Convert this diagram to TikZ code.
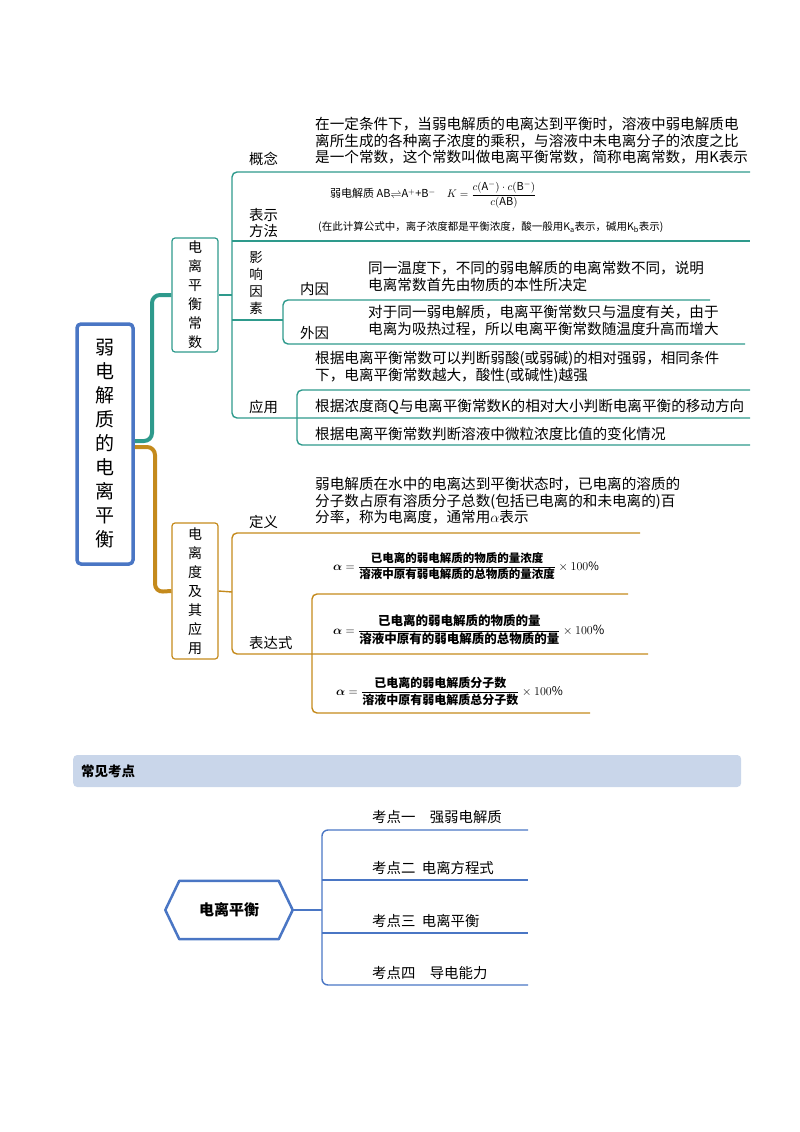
\documentclass[tikz,border=0pt]{standalone}
\usepackage{fontspec}
\usepackage{amsmath}
\setmainfont{Noto Sans CJK SC}
\newfontfamily\cjk{Noto Sans CJK SC}
\definecolor{teal1}{HTML}{2E9A8C}
\definecolor{gold1}{HTML}{C48A1C}
\definecolor{blue1}{HTML}{4A76C4}
\definecolor{bar1}{HTML}{C9D6EA}
\tikzset{
 txt/.style={inner sep=0pt,anchor=north west,align=left,font=\fontsize{14.6}{16.6}\selectfont},
 lab/.style={inner sep=0pt,font=\fontsize{14.4}{16.5}\selectfont},
 tl/.style={teal1,line width=1.4pt,rounded corners=5pt},
 gl/.style={gold1,line width=1.4pt,rounded corners=5pt},
 vbox/.style={draw,rounded corners=3pt,line width=1.2pt,inner sep=0pt,align=center,font=\fontsize{14}{19}\selectfont},
 frm/.style={inner sep=0pt,font=\fontsize{10}{12}\selectfont},
}
\begin{document}
\begin{tikzpicture}[x=1pt,y=-1pt]
\useasboundingbox (0,0) rectangle (800,1132);
% root
\node[draw=blue1,line width=3.5pt,rounded corners=4pt,minimum width=56pt,minimum height=240pt,align=center,font=\fontsize{19}{24}\selectfont] (root) at (105,444) {弱\\电\\解\\质\\的\\电\\离\\平\\衡};
\node[vbox,draw=teal1,minimum width=46pt,minimum height=114pt] (b1) at (195,295) {电\\离\\平\\衡\\常\\数};
\node[vbox,draw=gold1,minimum width=46pt,minimum height=136pt] (b2) at (195,591) {电\\离\\度\\及\\其\\应\\用};
\draw[teal1,line width=4pt,rounded corners=8pt] (root.east|-0,441) -- (152,441) -- (152,295) -- (b1.west);
\draw[gold1,line width=4pt,rounded corners=8pt] (root.east|-0,447) -- (155,447) -- (155,592) -- (b2.west);
% teal branch
\draw[tl] (750,172) -- (232,172) -- (232,418) -- (297,418) -- (750,418);
\draw[tl] (b1.east) -- (232,295);
\draw[tl] (232,241) -- (750,241);
\draw[tl] (232,320) -- (283,320);
\draw[tl] (710,300) -- (283,300) -- (283,344) -- (745,344);
\draw[tl] (750,390) -- (297,390) -- (297,445) -- (750,445);
\node[lab,anchor=south west] (l1) at (249,166) {概念};
\node[txt] (t1) at (315,117) {在一定条件下，当弱电解质的电离达到平衡时，溶液中弱电解质电\\离所生成的各种离子浓度的乘积，与溶液中未电离分子的浓度之比\\是一个常数，这个常数叫做电离平衡常数，简称电离常数，用K表示};
\node[lab,anchor=south west,align=left] (l2) at (249,238) {表示\\方法};
\node[frm,anchor=west,font=\fontsize{11}{13}\selectfont] (f1) at (330,195) {弱电解质 AB$\rightleftharpoons$A$^+$+B$^-$\quad $K=\dfrac{c(\mathrm{A}^-)\cdot c(\mathrm{B}^-)}{c(\mathrm{AB})}$};
\node[frm,anchor=west,font=\fontsize{10.5}{12}\selectfont] (f2) at (318,227) {(在此计算公式中，离子浓度都是平衡浓度，酸一般用K$_\mathrm{a}$表示，碱用K$_\mathrm{b}$表示)};
\node[lab,anchor=north,align=center,font=\fontsize{13.5}{17}\selectfont] (l3) at (256,251) {影\\响\\因\\素};
\node[lab,anchor=south west] (l4) at (300,296) {内因};
\node[txt] (t4) at (368,261) {同一温度下，不同的弱电解质的电离常数不同，说明\\电离常数首先由物质的本性所决定};
\node[lab,anchor=south west] (l5) at (300,340) {外因};
\node[txt] (t5) at (368,305) {对于同一弱电解质，电离平衡常数只与温度有关，由于\\电离为吸热过程，所以电离平衡常数随温度升高而增大};
\node[lab,anchor=south west] (l6) at (249,414) {应用};
\node[txt] (t6) at (315,351) {根据电离平衡常数可以判断弱酸(或弱碱)的相对强弱，相同条件\\下，电离平衡常数越大，酸性(或碱性)越强};
\node[txt,anchor=south west] (t7) at (315,414) {根据浓度商Q与电离平衡常数K的相对大小判断电离平衡的移动方向};
\node[txt,anchor=south west] (t8) at (315,441) {根据电离平衡常数判断溶液中微粒浓度比值的变化情况};
% gold branch
\draw[gl] (640,533) -- (232,533) -- (232,654) -- (312,654) -- (648,654);
\draw[gl] (b2.east) -- (232,592);
\draw[gl] (628,594) -- (312,594) -- (312,713) -- (590,713);
\node[lab,anchor=south west] (l7) at (249,529) {定义};
\node[txt] (t9) at (315,477) {弱电解质在水中的电离达到平衡状态时，已电离的溶质的\\分子数占原有溶质分子总数(包括已电离的和未电离的)百\\分率，称为电离度，通常用$\alpha$表示};
\node[lab,anchor=south west] (l8) at (249,650) {表达式};
\node[frm,anchor=west,font=\bfseries\fontsize{11.5}{13}\selectfont] (f3) at (333,566) {$\boldsymbol\alpha=\dfrac{\text{已电离的弱电解质的物质的量浓度}}{\text{溶液中原有弱电解质的总物质的量浓度}}\times100\%$};
\node[frm,anchor=west,font=\bfseries\fontsize{12.5}{14}\selectfont] (f4) at (333,630) {$\boldsymbol\alpha=\dfrac{\text{已电离的弱电解质的物质的量}}{\text{溶液中原有的弱电解质的总物质的量}}\times100\%$};
\node[frm,anchor=west,font=\bfseries\fontsize{12}{14}\selectfont] (f5) at (336,691) {$\boldsymbol\alpha=\dfrac{\text{已电离的弱电解质分子数}}{\text{溶液中原有弱电解质总分子数}}\times100\%$};
% bottom
\node[fill=bar1,rounded corners=4pt,minimum width=668pt,minimum height=32pt,anchor=west] (bar) at (73,771) {};
\node[lab,anchor=west,font=\bfseries\fontsize{13.5}{16}\selectfont] (bt) at (81,771) {常见考点};
\node[minimum width=127pt,minimum height=58pt,font=\bfseries\fontsize{15}{18}\selectfont] (hx) at (229,910) {电离平衡};
\draw[blue1,line width=2.5pt,line join=round] (hx.west) -- ([xshift=14pt]hx.north west) -- ([xshift=-14pt]hx.north east) -- (hx.east) -- ([xshift=-14pt]hx.south east) -- ([xshift=14pt]hx.south west) -- cycle;
\draw[blue1,line width=1.4pt] (hx.east) -- (322,910);
\draw[blue1,line width=1.4pt,rounded corners=6pt] (528,830) -- (322,830) -- (322,985) -- (528,985);
\draw[blue1,line width=1.4pt] (322,880) -- (528,880);
\draw[blue1,line width=1.4pt] (322,933) -- (528,933);
\node[lab,anchor=south west] (k1) at (372,824) {考点一\quad 强弱电解质};
\node[lab,anchor=south west] (k2) at (372,875) {考点二\ \ 电离方程式};
\node[lab,anchor=south west] (k3) at (372,928) {考点三\ \ 电离平衡};
\node[lab,anchor=south west] (k4) at (372,980) {考点四\quad 导电能力};
\end{tikzpicture}
\end{document}
